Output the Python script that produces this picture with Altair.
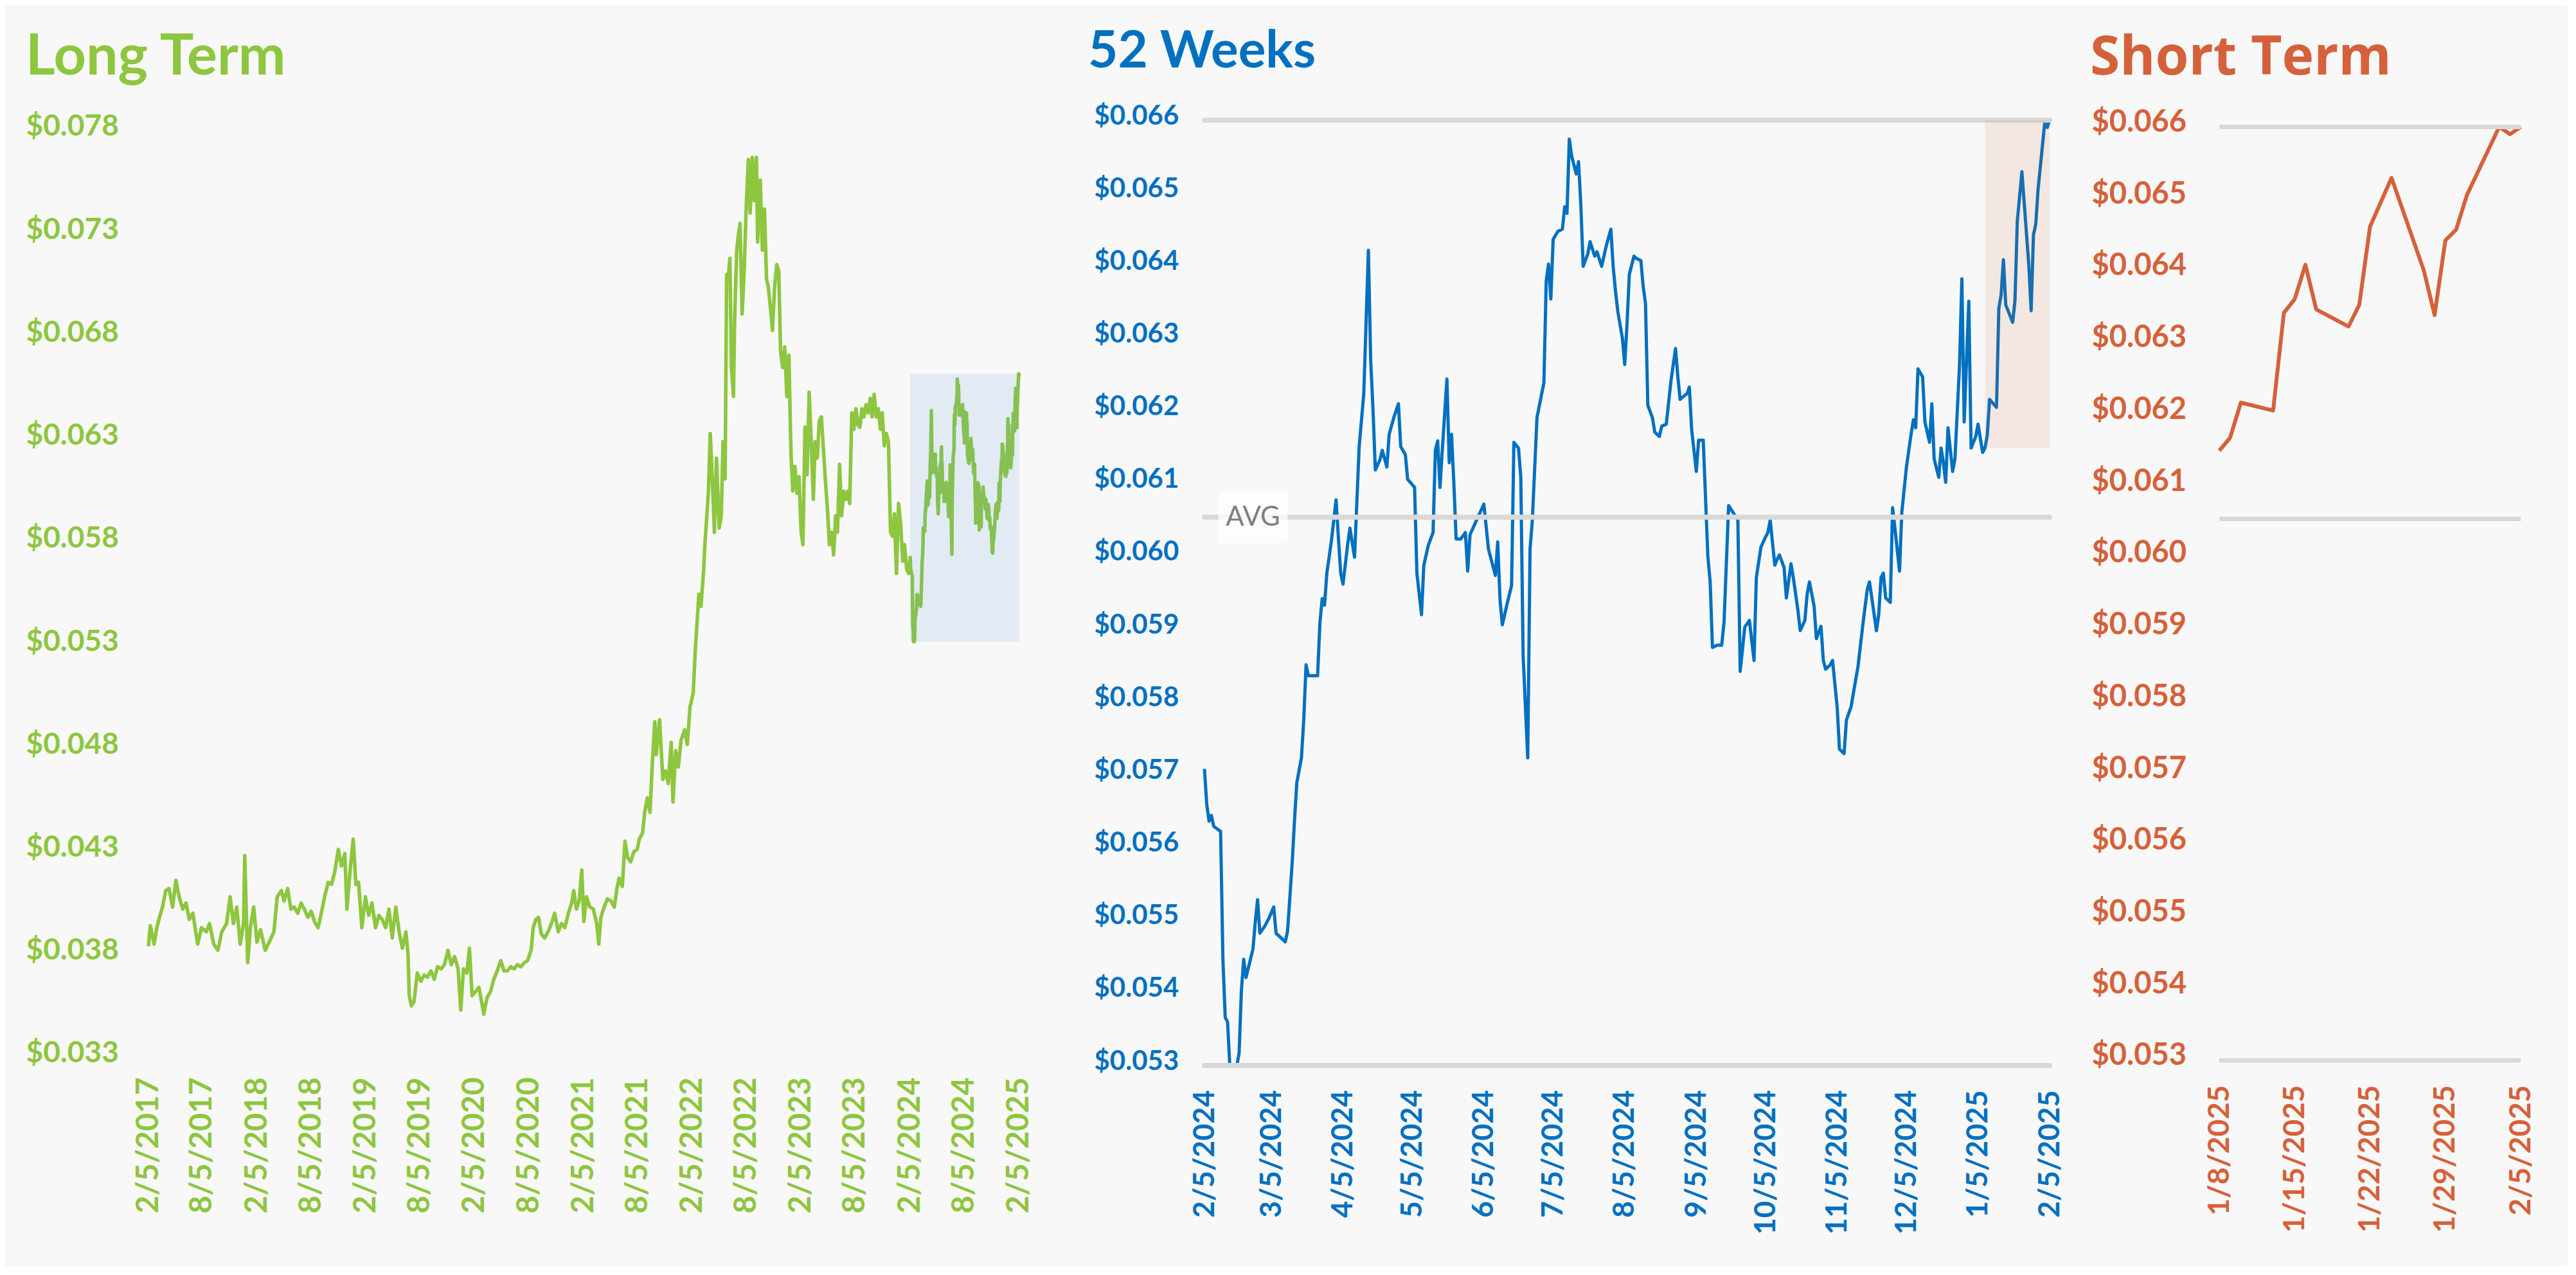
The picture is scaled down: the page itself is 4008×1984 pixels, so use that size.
import altair as alt
import pandas as pd

# ---------------- data ----------------
LT_DATES = [
    "2017-02-05", "2017-02-11", "2017-02-24", "2017-03-05", "2017-03-14", "2017-03-24", "2017-04-04", "2017-04-15",
    "2017-04-27", "2017-05-08", "2017-05-19", "2017-05-31", "2017-06-11", "2017-06-22", "2017-07-04", "2017-07-20",
    "2017-08-02", "2017-08-18", "2017-08-29", "2017-09-12", "2017-09-26", "2017-10-09", "2017-10-25", "2017-11-06",
    "2017-11-17", "2017-11-28", "2017-12-10", "2017-12-21", "2017-12-25", "2018-01-04", "2018-01-13", "2018-01-24",
    "2018-02-04", "2018-02-16", "2018-03-04", "2018-03-17", "2018-04-02", "2018-04-13", "2018-04-27", "2018-05-06",
    "2018-05-18", "2018-05-29", "2018-06-09", "2018-06-21", "2018-07-02", "2018-07-13", "2018-07-25", "2018-08-05",
    "2018-08-16", "2018-08-28", "2018-09-08", "2018-09-19", "2018-10-01", "2018-10-12", "2018-10-23", "2018-11-04",
    "2018-11-15", "2018-11-26", "2018-12-03", "2018-12-15", "2018-12-24", "2019-01-02", "2019-01-11", "2019-01-22",
    "2019-02-03", "2019-02-14", "2019-02-25", "2019-03-09", "2019-03-20", "2019-03-31", "2019-04-12", "2019-04-23",
    "2019-05-04", "2019-05-16", "2019-05-27", "2019-06-07", "2019-06-19", "2019-06-26", "2019-06-30", "2019-07-07",
    "2019-07-16", "2019-07-27", "2019-08-08", "2019-08-19", "2019-08-30", "2019-09-11", "2019-09-22", "2019-10-03",
    "2019-10-15", "2019-10-26", "2019-11-07", "2019-11-18", "2019-11-29", "2019-12-11", "2019-12-20", "2019-12-29",
    "2020-01-09", "2020-01-18", "2020-01-27", "2020-02-08", "2020-02-19", "2020-02-28", "2020-03-06", "2020-03-17",
    "2020-03-29", "2020-04-09", "2020-04-20", "2020-05-02", "2020-05-13", "2020-05-24", "2020-06-05", "2020-06-16",
    "2020-06-27", "2020-07-09", "2020-07-20", "2020-07-31", "2020-08-12", "2020-08-19", "2020-08-28", "2020-09-06",
    "2020-09-15", "2020-09-26", "2020-10-08", "2020-10-19", "2020-10-30", "2020-11-11", "2020-11-22", "2020-12-03",
    "2020-12-15", "2020-12-26", "2021-01-02", "2021-01-11", "2021-01-20", "2021-01-29", "2021-02-05", "2021-02-14",
    "2021-02-25", "2021-03-09", "2021-03-20", "2021-03-27", "2021-04-03", "2021-04-14", "2021-04-25", "2021-05-07",
    "2021-05-18", "2021-05-27", "2021-06-03", "2021-06-14", "2021-06-23", "2021-07-02", "2021-07-12", "2021-07-23",
    "2021-08-03", "2021-08-10", "2021-08-21", "2021-08-28", "2021-09-06", "2021-09-15", "2021-09-22", "2021-10-01",
    "2021-10-06", "2021-10-17", "2021-10-28", "2021-11-06", "2021-11-15", "2021-11-25", "2021-12-01", "2021-12-10",
    "2021-12-19", "2021-12-28", "2022-01-09", "2022-01-18", "2022-01-27", "2022-02-07", "2022-02-14", "2022-02-26",
    "2022-03-05", "2022-03-14", "2022-03-18", "2022-03-25", "2022-03-30", "2022-04-05", "2022-04-12", "2022-04-19",
    "2022-04-26", "2022-05-05", "2022-05-12", "2022-05-18", "2022-05-25", "2022-05-30", "2022-06-06", "2022-06-10",
    "2022-06-15", "2022-06-22", "2022-06-26", "2022-07-03", "2022-07-08", "2022-07-14", "2022-07-21", "2022-07-28",
    "2022-08-04", "2022-08-11", "2022-08-17", "2022-08-24", "2022-08-31", "2022-09-07", "2022-09-11", "2022-09-20",
    "2022-09-27", "2022-10-04", "2022-10-11", "2022-10-17", "2022-10-24", "2022-10-31", "2022-11-07", "2022-11-14",
    "2022-11-21", "2022-11-27", "2022-12-04", "2022-12-11", "2022-12-18", "2022-12-25", "2023-01-01", "2023-01-07",
    "2023-01-14", "2023-01-21", "2023-01-28", "2023-02-04", "2023-02-10", "2023-02-17", "2023-02-24", "2023-03-03",
    "2023-03-10", "2023-03-17", "2023-03-23", "2023-03-30", "2023-04-06", "2023-04-13", "2023-04-20", "2023-04-27",
    "2023-05-03", "2023-05-10", "2023-05-17", "2023-05-24", "2023-05-31", "2023-06-06", "2023-06-13", "2023-06-20",
    "2023-06-27", "2023-07-04", "2023-07-11", "2023-07-17", "2023-07-24", "2023-07-31", "2023-08-07", "2023-08-14",
    "2023-08-20", "2023-08-27", "2023-09-03", "2023-09-10", "2023-09-17", "2023-09-24", "2023-09-30", "2023-10-07",
    "2023-10-14", "2023-10-21", "2023-10-28", "2023-11-03", "2023-11-10", "2023-11-17", "2023-11-24", "2023-12-01",
    "2023-12-08", "2023-12-14", "2023-12-21", "2023-12-28", "2024-01-04", "2024-01-11", "2024-01-17", "2024-01-24",
    "2024-01-31",
]
LT_VALUES = [
    0.0382, 0.0392, 0.0383, 0.0391, 0.0396, 0.0401, 0.0409, 0.0410,
    0.0401, 0.0414, 0.0406, 0.0400, 0.0403, 0.0395, 0.0398, 0.0383,
    0.0391, 0.0389, 0.0393, 0.0383, 0.0380, 0.0389, 0.0393, 0.0406,
    0.0393, 0.0401, 0.0383, 0.0393, 0.0426, 0.0374, 0.0391, 0.0401,
    0.0384, 0.0390, 0.0380, 0.0384, 0.0389, 0.0406, 0.0409, 0.0404,
    0.0410, 0.0400, 0.0401, 0.0398, 0.0403, 0.0400, 0.0396, 0.0399,
    0.0394, 0.0391, 0.0398, 0.0406, 0.0413, 0.0412, 0.0418, 0.0429,
    0.0421, 0.0427, 0.0400, 0.0421, 0.0434, 0.0412, 0.0413, 0.0391,
    0.0406, 0.0397, 0.0403, 0.0391, 0.0397, 0.0395, 0.0391, 0.0400,
    0.0386, 0.0401, 0.0389, 0.0381, 0.0389, 0.0378, 0.0358, 0.0353,
    0.0355, 0.0369, 0.0365, 0.0368, 0.0367, 0.0370, 0.0366, 0.0372,
    0.0371, 0.0373, 0.0380, 0.0373, 0.0377, 0.0371, 0.0351, 0.0371,
    0.0369, 0.0381, 0.0358, 0.0360, 0.0362, 0.0355, 0.0349, 0.0357,
    0.0360, 0.0366, 0.0370, 0.0375, 0.0370, 0.0370, 0.0372, 0.0371,
    0.0373, 0.0372, 0.0374, 0.0375, 0.0380, 0.0391, 0.0395, 0.0396,
    0.0388, 0.0386, 0.0389, 0.0393, 0.0398, 0.0389, 0.0393, 0.0391,
    0.0398, 0.0403, 0.0409, 0.0400, 0.0404, 0.0419, 0.0394, 0.0406,
    0.0401, 0.0400, 0.0393, 0.0383, 0.0396, 0.0401, 0.0405, 0.0404,
    0.0401, 0.0410, 0.0415, 0.0411, 0.0433, 0.0425, 0.0423, 0.0428,
    0.0429, 0.0434, 0.0437, 0.0447, 0.0454, 0.0447, 0.0469, 0.0491,
    0.0475, 0.0492, 0.0463, 0.0467, 0.0461, 0.0481, 0.0452, 0.0477,
    0.0469, 0.0482, 0.0487, 0.0480, 0.0498, 0.0505, 0.0526, 0.0553,
    0.0547, 0.0565, 0.0577, 0.0592, 0.0603, 0.0631, 0.0609, 0.0583,
    0.0619, 0.0585, 0.0591, 0.0627, 0.0609, 0.0708, 0.0709, 0.0716,
    0.0663, 0.0649, 0.0687, 0.0720, 0.0727, 0.0733, 0.0689, 0.0710,
    0.0742, 0.0764, 0.0738, 0.0765, 0.0744, 0.0765, 0.0724, 0.0754,
    0.0720, 0.0740, 0.0706, 0.0702, 0.0692, 0.0681, 0.0702, 0.0713,
    0.0710, 0.0671, 0.0663, 0.0673, 0.0649, 0.0669, 0.0621, 0.0603,
    0.0615, 0.0602, 0.0610, 0.0583, 0.0577, 0.0634, 0.0611, 0.0651,
    0.0627, 0.0599, 0.0627, 0.0619, 0.0637, 0.0639, 0.0623, 0.0607,
    0.0595, 0.0577, 0.0583, 0.0572, 0.0591, 0.0583, 0.0616, 0.0591,
    0.0603, 0.0599, 0.0603, 0.0597, 0.0641, 0.0633, 0.0643, 0.0635,
    0.0634, 0.0643, 0.0639, 0.0645, 0.0641, 0.0648, 0.0639, 0.0650,
    0.0639, 0.0643, 0.0633, 0.0641, 0.0625, 0.0631, 0.0627, 0.0583,
    0.0581, 0.0592, 0.0563, 0.0597, 0.0587, 0.0569, 0.0577, 0.0565,
    0.0563,
]

W52_DATES = [
    "2024-02-05", "2024-02-06", "2024-02-07", "2024-02-08", "2024-02-09", "2024-02-12", "2024-02-13", "2024-02-14",
    "2024-02-15", "2024-02-16", "2024-02-19", "2024-02-20", "2024-02-21", "2024-02-22", "2024-02-23", "2024-02-26",
    "2024-02-27", "2024-02-28", "2024-02-29", "2024-03-02", "2024-03-04", "2024-03-06", "2024-03-07", "2024-03-09",
    "2024-03-11", "2024-03-12", "2024-03-14", "2024-03-15", "2024-03-16", "2024-03-18", "2024-03-19", "2024-03-20",
    "2024-03-21", "2024-03-25", "2024-03-26", "2024-03-27", "2024-03-28", "2024-03-29", "2024-03-31", "2024-04-02",
    "2024-04-03", "2024-04-04", "2024-04-05", "2024-04-07", "2024-04-08", "2024-04-10", "2024-04-12", "2024-04-14",
    "2024-04-16", "2024-04-17", "2024-04-18", "2024-04-19", "2024-04-21", "2024-04-22", "2024-04-24", "2024-04-25",
    "2024-04-27", "2024-04-29", "2024-04-30", "2024-05-02", "2024-05-03", "2024-05-06", "2024-05-07", "2024-05-09",
    "2024-05-10", "2024-05-12", "2024-05-14", "2024-05-15", "2024-05-16", "2024-05-17", "2024-05-18", "2024-05-20",
    "2024-05-21", "2024-05-22", "2024-05-23", "2024-05-24", "2024-05-26", "2024-05-28", "2024-05-29", "2024-05-30",
    "2024-06-01", "2024-06-03", "2024-06-05", "2024-06-07", "2024-06-10", "2024-06-11", "2024-06-12", "2024-06-13",
    "2024-06-15", "2024-06-17", "2024-06-18", "2024-06-20", "2024-06-21", "2024-06-22", "2024-06-24", "2024-06-25",
    "2024-06-26", "2024-06-28", "2024-07-01", "2024-07-02", "2024-07-03", "2024-07-04", "2024-07-05", "2024-07-07",
    "2024-07-09", "2024-07-10", "2024-07-11", "2024-07-12", "2024-07-13", "2024-07-15", "2024-07-16", "2024-07-17",
    "2024-07-18", "2024-07-20", "2024-07-21", "2024-07-23", "2024-07-24", "2024-07-26", "2024-07-28", "2024-07-30",
    "2024-07-31", "2024-08-01", "2024-08-02", "2024-08-04", "2024-08-05", "2024-08-06", "2024-08-07", "2024-08-09",
    "2024-08-10", "2024-08-12", "2024-08-13", "2024-08-14", "2024-08-15", "2024-08-17", "2024-08-18", "2024-08-20",
    "2024-08-21", "2024-08-23", "2024-08-25", "2024-08-27", "2024-08-28", "2024-08-29", "2024-08-30", "2024-09-01",
    "2024-09-02", "2024-09-03", "2024-09-05", "2024-09-06", "2024-09-08", "2024-09-10", "2024-09-11", "2024-09-12",
    "2024-09-14", "2024-09-16", "2024-09-17", "2024-09-19", "2024-09-23", "2024-09-24", "2024-09-26", "2024-09-28",
    "2024-09-30", "2024-10-01", "2024-10-03", "2024-10-05", "2024-10-06", "2024-10-07", "2024-10-09", "2024-10-10",
    "2024-10-11", "2024-10-13", "2024-10-14", "2024-10-16", "2024-10-17", "2024-10-19", "2024-10-20", "2024-10-22",
    "2024-10-23", "2024-10-24", "2024-10-26", "2024-10-27", "2024-10-29", "2024-10-30", "2024-10-31", "2024-11-02",
    "2024-11-03", "2024-11-05", "2024-11-06", "2024-11-08", "2024-11-09", "2024-11-11", "2024-11-13", "2024-11-14",
    "2024-11-16", "2024-11-18", "2024-11-19", "2024-11-20", "2024-11-22", "2024-11-23", "2024-11-24", "2024-11-25",
    "2024-11-26", "2024-11-28", "2024-11-29", "2024-11-30", "2024-12-02", "2024-12-03", "2024-12-05", "2024-12-07",
    "2024-12-08", "2024-12-09", "2024-12-10", "2024-12-12", "2024-12-13", "2024-12-15", "2024-12-16", "2024-12-17",
    "2024-12-19", "2024-12-20", "2024-12-21", "2024-12-22", "2024-12-23", "2024-12-25", "2024-12-26", "2024-12-28",
    "2024-12-29", "2024-12-30", "2025-01-01", "2025-01-02", "2025-01-04", "2025-01-05", "2025-01-07",
]
W52_VALUES = [
    0.05708, 0.05659, 0.05636, 0.05644, 0.05629, 0.05622, 0.05445, 0.05366,
    0.05360, 0.05299, 0.05299, 0.05317, 0.05403, 0.05446, 0.05421, 0.05460,
    0.05497, 0.05528, 0.05482, 0.05491, 0.05503, 0.05518, 0.05482, 0.05476,
    0.05470, 0.05485, 0.05579, 0.05637, 0.05689, 0.05723, 0.05775, 0.05851,
    0.05836, 0.05836, 0.05909, 0.05942, 0.05933, 0.05977, 0.06022, 0.06078,
    0.06026, 0.05977, 0.05962, 0.06016, 0.06039, 0.05999, 0.06151, 0.06224,
    0.06421, 0.06269, 0.06202, 0.06119, 0.06133, 0.06146, 0.06123, 0.06168,
    0.06191, 0.06210, 0.06151, 0.06140, 0.06106, 0.06095, 0.05977, 0.05920,
    0.05988, 0.06016, 0.06033, 0.06146, 0.06159, 0.06095, 0.06146, 0.06244,
    0.06129, 0.06168, 0.06101, 0.06024, 0.06024, 0.06033, 0.05980, 0.06030,
    0.06044, 0.06058, 0.06072, 0.06010, 0.05974, 0.06020, 0.05940, 0.05906,
    0.05934, 0.05960, 0.06157, 0.06149, 0.06109, 0.05864, 0.05723, 0.06010,
    0.06050, 0.06191, 0.06239, 0.06379, 0.06402, 0.06354, 0.06436, 0.06447,
    0.06450, 0.06481, 0.06472, 0.06574, 0.06551, 0.06526, 0.06543, 0.06483,
    0.06399, 0.06416, 0.06433, 0.06413, 0.06419, 0.06399, 0.06427, 0.06450,
    0.06399, 0.06365, 0.06337, 0.06300, 0.06264, 0.06320, 0.06388, 0.06413,
    0.06410, 0.06407, 0.06371, 0.06348, 0.06208, 0.06191, 0.06171, 0.06165,
    0.06179, 0.06182, 0.06241, 0.06286, 0.06247, 0.06216, 0.06219, 0.06224,
    0.06233, 0.06174, 0.06117, 0.06160, 0.06160, 0.06000, 0.05965, 0.05875,
    0.05878, 0.05878, 0.05909, 0.06070, 0.06050, 0.05842, 0.05903, 0.05912,
    0.05857, 0.05971, 0.06013, 0.06027, 0.06033, 0.06050, 0.05988, 0.05996,
    0.06002, 0.05985, 0.05943, 0.05990, 0.05971, 0.05926, 0.05898, 0.05912,
    0.05948, 0.05965, 0.05932, 0.05887, 0.05904, 0.05857, 0.05845, 0.05851,
    0.05857, 0.05793, 0.05735, 0.05729, 0.05775, 0.05793, 0.05830, 0.05848,
    0.05903, 0.05954, 0.05965, 0.05943, 0.05898, 0.05920, 0.05971, 0.05977,
    0.05943, 0.05937, 0.06067, 0.06039, 0.05980, 0.06061, 0.06123, 0.06168,
    0.06188, 0.06177, 0.06258, 0.06247, 0.06185, 0.06157, 0.06210, 0.06134,
    0.06109, 0.06149, 0.06129, 0.06102, 0.06177, 0.06117, 0.06134, 0.06264,
    0.06382, 0.06185, 0.06351, 0.06149, 0.06165, 0.06182, 0.06143,
]

ST_DATES = [
    "2025-01-08", "2025-01-09", "2025-01-10", "2025-01-13", "2025-01-14", "2025-01-15", "2025-01-16",
    "2025-01-17", "2025-01-20", "2025-01-21", "2025-01-22", "2025-01-23", "2025-01-24", "2025-01-27",
    "2025-01-28", "2025-01-29", "2025-01-30", "2025-01-31", "2025-02-03", "2025-02-04", "2025-02-05",
]
ST_VALUES = [
    0.06149, 0.06167, 0.06216, 0.06205, 0.06341, 0.06360, 0.06408,
    0.06346, 0.06322, 0.06352, 0.06461, 0.06495, 0.06529, 0.06400,
    0.06338, 0.06442, 0.06457, 0.06505, 0.06600, 0.06590, 0.06600,
]

AVG_52W = 0.06054
HIGH_52W = 0.0660
LOW_52W = 0.0530

LT_XTICKS = ["2017-02-05", "2017-08-05", "2018-02-05", "2018-08-05", "2019-02-05", "2019-08-05",
             "2020-02-05", "2020-08-05", "2021-02-05", "2021-08-05", "2022-02-05", "2022-08-05",
             "2023-02-05", "2023-08-05", "2024-02-05", "2024-08-05", "2025-02-05"]
W52_XTICKS = ["2024-02-05", "2024-03-05", "2024-04-05", "2024-05-05", "2024-06-05", "2024-07-05",
              "2024-08-05", "2024-09-05", "2024-10-05", "2024-11-05", "2024-12-05", "2025-01-05",
              "2025-02-05"]
ST_XTICKS = ["2025-01-08", "2025-01-15", "2025-01-22", "2025-01-29", "2025-02-05"]
LT_YTICKS = [0.033, 0.038, 0.043, 0.048, 0.053, 0.058, 0.063, 0.068, 0.073, 0.078]
W52_YTICKS = [0.053, 0.054, 0.055, 0.056, 0.057, 0.058, 0.059, 0.060, 0.061, 0.062, 0.063, 0.064, 0.065, 0.066]

# ---------------- styling ----------------
GREEN = "#8DC63F"
BLUE = "#0070C0"
ORANGE = "#D5613A"
GRID = "#D9D9D9"
FONT = "Lato"
H = 1471


def dt(s):
    y, m, d = (int(p) for p in s.split("-"))
    return alt.DateTime(year=y, month=m, date=d, utc=True)


def x_axis(ticks, color, size, pad):
    return alt.Axis(values=[dt(t) for t in ticks], format="%-m/%-d/%Y", labelAngle=270,
                    labelFont=FONT, labelFontWeight="bold", labelFontSize=size, labelColor=color,
                    labelPadding=pad, labelFlush=False, labelOverlap=False, labelLimit=600, ticks=False,
                    domain=False, grid=False, title=None)


def y_axis(ticks, color, size, pad, offset):
    return alt.Axis(values=ticks, format="$.3f", labelAlign="left", labelBaseline="middle",
                    labelFont=FONT, labelFontWeight="bold", labelFontSize=size, labelColor=color,
                    labelPadding=pad, labelOffset=offset, labelFlush=False, labelOverlap=False,
                    labelLimit=600, ticks=False, domain=False, grid=False, title=None)


def title(text, color, size, offset, dx, font=FONT):
    return alt.TitleParams(text, anchor="start", frame="bounds", font=font, fontWeight="bold",
                           fontSize=size, color=color, offset=offset, dx=dx)


lt_df = pd.DataFrame({"date": LT_DATES + W52_DATES + ST_DATES, "price": LT_VALUES + W52_VALUES + ST_VALUES})
w52_df = pd.DataFrame({"date": W52_DATES + ST_DATES, "price": W52_VALUES + ST_VALUES})
st_df = pd.DataFrame({"date": ST_DATES, "price": ST_VALUES})

w52_lo, w52_hi = min(W52_VALUES + ST_VALUES), max(W52_VALUES + ST_VALUES)
st_lo, st_hi = min(ST_VALUES), max(ST_VALUES)

# ---------------- Long Term ----------------
lt_x = alt.Scale(type="utc", domain=[dt("2017-02-05"), dt("2025-03-29")])
lt_y = alt.Scale(domain=[0.032407, 0.078312], nice=False, zero=False)

lt_line = alt.Chart(lt_df).mark_line(color=GREEN, strokeWidth=5.5, strokeJoin="round").encode(
    x=alt.X("date:T", scale=lt_x, axis=x_axis(LT_XTICKS, GREEN, 48, 18)),
    y=alt.Y("price:Q", scale=lt_y, axis=y_axis(LT_YTICKS, GREEN, 46, 191, 0)),
)
lt_box = alt.Chart(pd.DataFrame({"x": ["2024-02-05"], "x2": ["2025-02-05"], "lo": [w52_lo], "hi": [w52_hi]})
                   ).mark_rect(color="#5B9BD5", opacity=0.14).encode(
    x=alt.X("x:T", scale=lt_x), x2="x2:T",
    y=alt.Y("lo:Q", scale=lt_y), y2="hi:Q",
)
long_term = alt.layer(lt_line, lt_box).properties(
    width=1379, height=H, title=title("Long Term", GREEN, 88, 40, 0))

# ---------------- 52 Weeks ----------------
w_x = alt.Scale(type="utc", domain=[dt("2024-02-05"), dt("2025-02-05")])
w_y = alt.Scale(domain=[0.053, 0.066], nice=False, zero=False)

ref_df = pd.DataFrame({"x": ["2024-02-05"] * 3, "x2": ["2025-02-05"] * 3, "v": [HIGH_52W, AVG_52W, LOW_52W]})
w_line = alt.Chart(w52_df).mark_line(color=BLUE, strokeWidth=5, strokeJoin="round").encode(
    x=alt.X("date:T", scale=w_x, axis=x_axis(W52_XTICKS, BLUE, 45, 38)),
    y=alt.Y("price:Q", scale=w_y, axis=y_axis(W52_YTICKS, BLUE, 42, 172, -7)),
)
w_rules = alt.Chart(ref_df).mark_rule(color=GRID, strokeWidth=8, strokeCap="round").encode(
    x=alt.X("x:T", scale=w_x), x2="x2:T", y=alt.Y("v:Q", scale=w_y))
w_box = alt.Chart(pd.DataFrame({"x": ["2025-01-08"], "x2": ["2025-02-05"], "lo": [st_lo], "hi": [st_hi]})
                  ).mark_rect(color="#D0603A", opacity=0.11).encode(
    x=alt.X("x:T", scale=w_x), x2="x2:T",
    y=alt.Y("lo:Q", scale=w_y), y2="hi:Q",
)
avg_box = alt.Chart(pd.DataFrame({"x": ["2024-02-11"], "x2": ["2024-03-12"],
                                  "lo": [AVG_52W - 0.00035], "hi": [AVG_52W + 0.00035]})
                    ).mark_rect(color="#FFFFFF", opacity=0.75).encode(
    x=alt.X("x:T", scale=w_x), x2="x2:T",
    y=alt.Y("lo:Q", scale=w_y), y2="hi:Q",
)
avg_text = alt.Chart(pd.DataFrame({"x": ["2024-02-26"], "v": [AVG_52W], "t": ["AVG"]})).mark_text(
    font=FONT, fontSize=42, color="#7F7F7F", align="center", baseline="middle").encode(
    x=alt.X("x:T", scale=w_x), y=alt.Y("v:Q", scale=w_y), text="t:N")
weeks = alt.layer(w_line, w_rules, w_box, avg_box, avg_text).properties(
    width=1315, height=H, title=title("52 Weeks", BLUE, 80, 37, -9))

# ---------------- Short Term ----------------
s_x = alt.Scale(type="utc", domain=[dt("2025-01-08"), dt("2025-02-05")])
s_y = alt.Scale(domain=[0.052928, 0.066094], nice=False, zero=False)
s_ref = pd.DataFrame({"x": ["2025-01-08"] * 3, "x2": ["2025-02-05"] * 3, "v": [HIGH_52W, AVG_52W, LOW_52W]})
s_line = alt.Chart(st_df).mark_line(color=ORANGE, strokeWidth=6, strokeJoin="round").encode(
    x=alt.X("date:T", scale=s_x, axis=x_axis(ST_XTICKS, ORANGE, 46, 30)),
    y=alt.Y("price:Q", scale=s_y, axis=y_axis(W52_YTICKS, ORANGE, 47, 199, -7)),
)
s_rules = alt.Chart(s_ref).mark_rule(color=GRID, strokeWidth=7, strokeCap="butt").encode(
    x=alt.X("x:T", scale=s_x), x2="x2:T", y=alt.Y("v:Q", scale=s_y))
short_term = alt.layer(s_line, s_rules).properties(
    width=469, height=H, title=title("Short Term", ORANGE, 84, 33, -2, font="Open Sans"))

chart = alt.hconcat(long_term, weeks, short_term, spacing=264, bounds="flush").properties(
    padding={"left": 32, "top": 33, "right": 50, "bottom": 50},
    background="#F8F8F8",
).configure_view(strokeWidth=0)

chart.save("out.html", embed_options={"renderer": "svg", "actions": False})
